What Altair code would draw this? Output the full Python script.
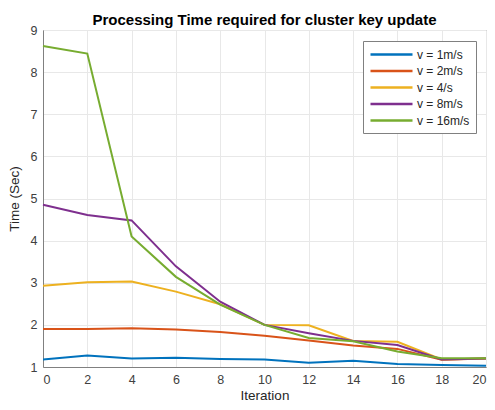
import altair as alt
import pandas as pd

iterations = [0, 2, 4, 6, 8, 10, 12, 14, 16, 18, 20]
series_names = ["v = 1m/s", "v = 2m/s", "v = 4/s", "v = 8m/s", "v = 16m/s"]
v1 = [1.18, 1.27, 1.20, 1.22, 1.19, 1.18, 1.10, 1.15, 1.07, 1.05, 1.03]
v2 = [1.90, 1.90, 1.92, 1.89, 1.83, 1.74, 1.63, 1.51, 1.43, 1.17, 1.20]
v4 = [2.93, 3.01, 3.03, 2.79, 2.49, 2.00, 1.99, 1.62, 1.60, 1.18, 1.20]
v8 = [4.85, 4.61, 4.48, 3.39, 2.55, 2.00, 1.80, 1.62, 1.52, 1.18, 1.20]
v16 = [8.62, 8.44, 4.10, 3.14, 2.48, 2.00, 1.69, 1.61, 1.37, 1.21, 1.21]
colors = ["#0072BD", "#D95319", "#EDB120", "#7E2F8E", "#77AC30"]

rows = []
for name, vals in zip(series_names, [v1, v2, v4, v8, v16]):
    for it, v in zip(iterations, vals):
        rows.append({"Iteration": it, "Time": v, "Series": name})
df = pd.DataFrame(rows)

chart = alt.Chart(df).mark_line(strokeWidth=2).encode(
    x=alt.X("Iteration:Q",
            scale=alt.Scale(domain=[0, 20], nice=False),
            axis=alt.Axis(values=iterations, title="Iteration", format="d",
                          labelPadding=6, titlePadding=3)),
    y=alt.Y("Time:Q",
            scale=alt.Scale(domain=[1, 9], nice=False, zero=False),
            axis=alt.Axis(values=[1, 2, 3, 4, 5, 6, 7, 8, 9], title="Time (Sec)",
                          labelPadding=6, titlePadding=9)),
    color=alt.Color("Series:N",
                    scale=alt.Scale(domain=series_names, range=colors),
                    sort=series_names,
                    legend=alt.Legend(title=None, orient="none", legendX=320, legendY=11,
                                      symbolType="M-1,0H6", symbolSize=144,
                                      symbolStrokeWidth=2.5, labelFontSize=12,
                                      labelFont="Liberation Sans", labelColor="#262626",
                                      strokeColor="#808080", fillColor="white",
                                      padding=6, rowPadding=2.5, labelOffset=33)),
    order=alt.Order("Iteration:Q"),
).properties(
    width=443,
    height=337,
    title=alt.TitleParams("Processing Time required for cluster key update",
                          fontSize=15, fontWeight="bold", font="Liberation Sans",
                          color="#000000", offset=-4),
    autosize=alt.AutoSizeParams(type="none"),
    padding={"left": 35, "top": 22, "right": 1, "bottom": 35},
).configure_axis(
    labelFont="Liberation Sans",
    titleFont="Liberation Sans",
    labelFontSize=12.5,
    titleFontSize=13.5,
    titleFontWeight="normal",
    labelColor="#404040",
    titleColor="#262626",
    gridColor="#e8e8e8",
    domainColor="#808080",
    ticks=False,
).configure_view(
    stroke="#808080",
)

chart.save("out.html", embed_options={"renderer": "svg", "actions": False})
